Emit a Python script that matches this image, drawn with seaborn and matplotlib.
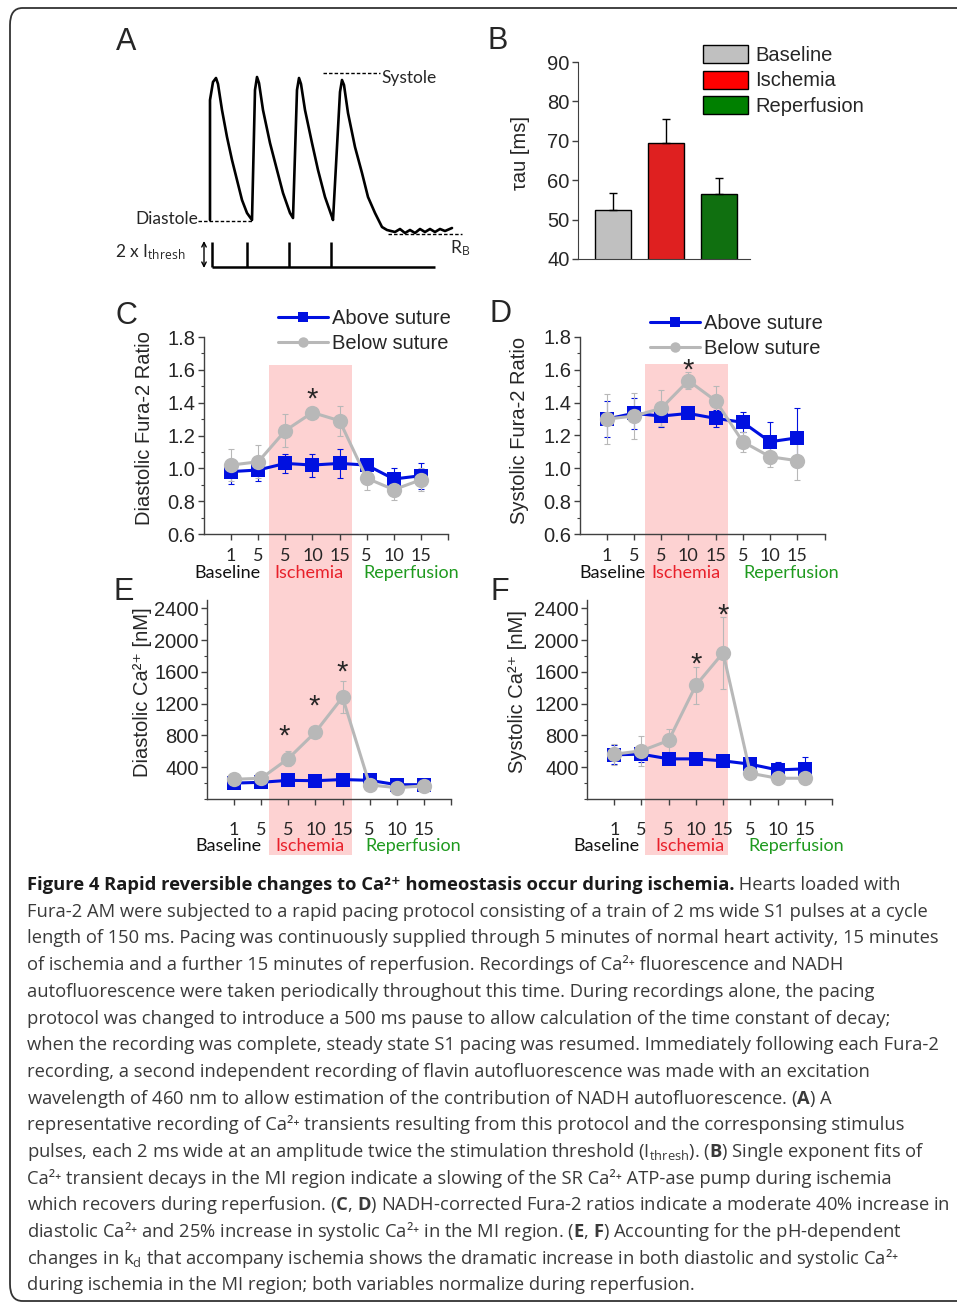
import matplotlib
matplotlib.use("Agg")
import numpy as np
import pandas as pd
import matplotlib.pyplot as plt
import matplotlib.transforms as mtransforms
from matplotlib.patches import Patch, Rectangle, FancyBboxPatch
from matplotlib.lines import Line2D
from matplotlib.ticker import MultipleLocator, FormatStrFormatter
import seaborn as sns

W, H = 957, 1303

# ---------------- data ----------------
# A: representative Ca2+ transient trace (arbitrary units) and stimulus pulses
trace_t = [0, 0, 3, 6, 8, 12, 17, 22, 27, 32, 37, 42,
           45, 47, 49, 53, 60, 67, 73, 80, 83,
           87, 89, 91, 95, 102, 108, 115, 122, 123,
           130, 132, 134, 138, 145, 152, 158, 165, 172,
           177, 185, 190, 195, 200, 205, 210, 215, 220, 225, 230, 235, 242]
trace_f = [10, 130, 148, 152, 146, 120, 93, 70, 50, 30, 17, 10,
           140, 153, 147, 120, 87, 60, 37, 17, 12,
           140, 152, 146, 120, 87, 60, 33, 13, 10,
           138, 150, 145, 117, 83, 57, 33, 17, 3,
           0, -2, 1, -3, 0, -3, 1, -2, 1, -2, 1, -1, 2]
stim_t = [2, 37, 79, 121]

# B: time constant of decay
phases = ["Baseline", "Ischemia", "Reperfusion"]
tau_mean = [52.5, 69.4, 56.6]
tau_err = [4.3, 6.1, 3.9]

# C-F: time points (min) within baseline / ischemia / reperfusion
time_pos = [1, 2, 3, 4, 5, 6, 7, 8]
time_labels = ["1", "5", "5", "10", "15", "5", "10", "15"]
ischemia_window = (2.4, 5.45)

diast_ratio_above = [0.98, 0.99, 1.03, 1.02, 1.03, 1.02, 0.935, 0.955]
diast_ratio_above_err = [0.075, 0.07, 0.06, 0.07, 0.09, 0.03, 0.065, 0.08]
diast_ratio_below = [1.02, 1.04, 1.23, 1.34, 1.29, 0.94, 0.87, 0.93]
diast_ratio_below_err = [0.10, 0.10, 0.10, 0.03, 0.09, 0.07, 0.06, 0.07]

syst_ratio_above = [1.30, 1.335, 1.318, 1.334, 1.304, 1.28, 1.162, 1.186]
syst_ratio_above_err = [0.11, 0.095, 0.065, 0.03, 0.05, 0.06, 0.12, 0.18]
syst_ratio_below = [1.30, 1.318, 1.365, 1.533, 1.411, 1.162, 1.071, 1.047]
syst_ratio_below_err = [0.15, 0.14, 0.11, 0.05, 0.09, 0.06, 0.06, 0.12]

diast_ca_above = [200, 210, 235, 230, 245, 235, 180, 180]
diast_ca_above_err = [30, 30, 25, 25, 25, 30, 25, 30]
diast_ca_below = [248, 261, 509, 842, 1280, 177, 143, 164]
diast_ca_below_err = [30, 30, 90, 40, 200, 40, 30, 30]

syst_ca_above = [556, 564, 505, 505, 480, 438, 366, 379]
syst_ca_above_err = [120, 100, 40, 30, 30, 40, 100, 150]
syst_ca_below = [564, 606, 737, 1431, 1840, 324, 261, 261]
syst_ca_below_err = [130, 190, 140, 230, 450, 30, 20, 20]

# significance markers (x, y)
sig_c = [(4, 1.47)]
sig_d = [(4, 1.65)]
sig_e = [(2.85, 893), (3.95, 1271), (4.97, 1700)]
sig_f = [(4, 1806), (5, 2417)]

caption_title = "Figure 4 Rapid reversible changes to Ca²⁺ homeostasis occur during ischemia."
caption_lines = [
    " Hearts loaded with",
    "Fura-2 AM were subjected to a rapid pacing protocol consisting of a train of 2 ms wide S1 pulses at a cycle",
    "length of 150 ms. Pacing was continuously supplied through 5 minutes of normal heart activity, 15 minutes",
    "of ischemia and a further 15 minutes of reperfusion. Recordings of Ca²⁺ fluorescence and NADH",
    "autofluorescence were taken periodically throughout this time. During recordings alone, the pacing",
    "protocol was changed to introduce a 500 ms pause to allow calculation of the time constant of decay;",
    "when the recording was complete, steady state S1 pacing was resumed. Immediately following each Fura-2",
    "recording, a second independent recording of flavin autofluorescence was made with an excitation",
    "wavelength of 460 nm to allow estimation of the contribution of NADH autofluorescence. ($\\mathbf{A}$) A",
    "representative recording of Ca²⁺ transients resulting from this protocol and the corresponsing stimulus",
    "pulses, each 2 ms wide at an amplitude twice the stimulation threshold (I$_{\\mathrm{thresh}}$). ($\\mathbf{B}$) Single exponent fits of",
    "Ca²⁺ transient decays in the MI region indicate a slowing of the SR Ca²⁺ ATP-ase pump during ischemia",
    "which recovers during reperfusion. ($\\mathbf{C}$, $\\mathbf{D}$) NADH-corrected Fura-2 ratios indicate a moderate 40% increase in",
    "diastolic Ca²⁺ and 25% increase in systolic Ca²⁺ in the MI region. ($\\mathbf{E}$, $\\mathbf{F}$) Accounting for the pH-dependent",
    "changes in k$_{\\mathrm{d}}$ that accompany ischemia shows the dramatic increase in both diastolic and systolic Ca²⁺",
    "during ischemia in the MI region; both variables normalize during reperfusion.",
]

# ---------------- style ----------------
sns.set_style("ticks")
plt.rcParams['font.family'] = ['Liberation Sans', 'DejaVu Sans']
plt.rcParams['mathtext.fontset'] = 'custom'
plt.rcParams['mathtext.rm'] = 'Open Sans'
plt.rcParams['mathtext.it'] = 'Open Sans'
plt.rcParams['mathtext.bf'] = 'Open Sans:bold'

BLUE = "#0010e0"
GRAY = "#b8b8b8"
PINK = "#fdd2d2"
RED = "#e8202a"
GREEN = "#1f9a1f"
AXC = "#404040"
FS = 14.5
CAP_FAMILY = ["Open Sans", "DejaVu Sans"]

fig = plt.figure(figsize=(W / 100, H / 100), dpi=100)


def px_axes(l, t, r, b):
    ax = fig.add_axes([l / W, 1 - b / H, (r - l) / W, (b - t) / H])
    ax.set_facecolor("none")
    return ax


def ftext(x, y, s, **kw):
    return fig.text(x / W, 1 - y / H, s, **kw)


# frame
fig.patches.append(FancyBboxPatch((10 / W, 1 - 1301 / H), 1.2, 1293 / H,
                                  boxstyle="round,pad=0,rounding_size=0.013",
                                  transform=fig.transFigure, fill=False,
                                  ec="#333333", lw=1.3))

# ---------------- A ----------------
axA = px_axes(100, 20, 480, 280)
axA.set_xlim(-110, 270)
axA.set_ylim(-50, 210)
axA.axis("off")
sns.lineplot(x=trace_t, y=trace_f, estimator=None, sort=False, color="black",
             lw=1.9, ax=axA)
base, amp = -37, 25
axA.hlines(base, stim_t[0], 225, color="black", lw=1.8)
axA.vlines(stim_t, base, base + amp, color="black", lw=1.8)
axA.annotate("", xy=(-6, base - 1), xytext=(-6, base + amp + 1),
             arrowprops=dict(arrowstyle="<->", lw=1.0, color="black",
                             shrinkA=0, shrinkB=0, mutation_scale=8))
axA.hlines(157, 113, 170, color="black", lw=1.0, linestyles=(0, (2.5, 1.5)))
axA.hlines(9, -12, 43, color="black", lw=1.0, linestyles=(0, (2.5, 1.5)))
axA.hlines(-4, 178, 252, color="black", lw=1.0, linestyles=(0, (2.5, 1.5)))
axA.text(171, 152, "Systole", family="Lato", fontsize=12.5, va="center", ha="left")
axA.text(-12, 11, "Diastole", family="Lato", fontsize=12.5, va="center", ha="right")
axA.text(-25, -27, "2 x I$_{\\mathrm{thresh}}$", family="Lato", fontsize=12.5,
         va="baseline", ha="right")
axA.text(240, -23, "R$_{\\mathrm{B}}$", family="Lato", fontsize=12.5,
         va="baseline", ha="left")

# ---------------- B ----------------
axB = px_axes(578, 62, 750, 259)
bar_colors = ["#c0c0c0", "#ff0000", "#008000"]
df_b = pd.DataFrame({"phase": phases, "tau": tau_mean})
sns.barplot(data=df_b, x="phase", y="tau", hue="phase", palette=bar_colors,
            legend=False, width=0.68, edgecolor="black", linewidth=1.0,
            errorbar=None, ax=axB)
axB.errorbar(range(len(phases)), tau_mean, yerr=[np.zeros(3), tau_err],
             fmt="none", ecolor="black", elinewidth=1.0, capsize=3, capthick=1.0)
axB.set_xlim(-0.66, 2.58)
axB.set_ylim(40, 90)
axB.set_yticks(range(40, 91, 10))
axB.set_xticks([])
axB.set_xlabel("")
axB.set_ylabel("τau [ms]", fontsize=FS, va="center")
axB.yaxis.set_label_coords(-0.337, 0.54)
axB.tick_params(axis="y", labelsize=FS, length=4, width=1, color=AXC, pad=2)
for sp in ["top", "right"]:
    axB.spines[sp].set_visible(False)
for sp in ["left", "bottom"]:
    axB.spines[sp].set_color(AXC)
handles_b = [Patch(facecolor=c, edgecolor="black", lw=1.0, label=p)
             for c, p in zip(bar_colors, phases)]
axB.legend(handles=handles_b, loc="upper left", bbox_to_anchor=(703 / W, 1 - 45 / H),
           bbox_transform=fig.transFigure, frameon=False, fontsize=FS, borderpad=0,
           borderaxespad=0, handlelength=2.24, handleheight=1.0, handletextpad=0.35,
           labelspacing=0.28)


# ---------------- C-F ----------------
def line_panel(ax, above, above_err, below, below_err, ylim, major, minor, fmt,
               ylabel, label_xy, tick_pad, sig):
    ax.errorbar(time_pos, above, yerr=above_err, fmt="none", ecolor=BLUE,
                elinewidth=0.8, capsize=2.5, capthick=0.8, zorder=2)
    ax.errorbar(time_pos, below, yerr=below_err, fmt="none", ecolor=GRAY,
                elinewidth=0.8, capsize=2.5, capthick=0.8, zorder=2)
    df_a = pd.DataFrame({"t": time_pos, "v": above})
    df_g = pd.DataFrame({"t": time_pos, "v": below})
    sns.lineplot(data=df_a, x="t", y="v", color=BLUE, lw=2.2, marker="s",
                 markersize=9.5, markeredgewidth=0, ax=ax, zorder=3)
    sns.lineplot(data=df_g, x="t", y="v", color=GRAY, lw=2.2, marker="o",
                 markersize=11, markeredgewidth=0, ax=ax, zorder=4)
    for (sx, sy) in sig:
        ax.annotate("*", (sx, sy), xytext=(0, -12), textcoords="offset points",
                    ha="center", va="baseline", fontsize=21)
    ax.set_xlim(0, 9)
    ax.set_xticks(list(time_pos) + [9])
    ax.set_xticklabels(time_labels + [""])
    ax.yaxis.set_major_locator(MultipleLocator(major))
    ax.yaxis.set_minor_locator(MultipleLocator(minor))
    ax.yaxis.set_major_formatter(FormatStrFormatter(fmt))
    ax.set_ylim(*ylim)
    ax.set_xlabel("")
    ax.set_ylabel(ylabel, fontsize=FS, va="center")
    ax.yaxis.set_label_coords(*label_xy)
    ax.tick_params(axis="y", which="major", labelsize=FS, length=4, width=1,
                   color=AXC, pad=2)
    ax.tick_params(axis="y", which="minor", length=2, width=0.8, color=AXC)
    ax.tick_params(axis="x", labelsize=13, length=4, width=1, color=AXC, pad=tick_pad)
    for lbl in ax.get_xticklabels():
        lbl.set_fontfamily("Lato")
    for sp in ["top", "right"]:
        ax.spines[sp].set_visible(False)
    for sp in ["left", "bottom"]:
        ax.spines[sp].set_color(AXC)
        ax.spines[sp].set_linewidth(1.0)


def group_labels(ax, xs, y_px):
    tr = mtransforms.blended_transform_factory(ax.transData, fig.transFigure)
    for x, s, c in zip(xs, phases, ["#111111", RED, GREEN]):
        ax.text(x, 1 - y_px / H, s, transform=tr, family="Lato", fontsize=13,
                color=c, ha="center", va="center", clip_on=False)


def ischemia_band(ax, top, bottom_px):
    # shaded ischemia window: from `top` (data units) down through panel E/F
    tr = mtransforms.blended_transform_factory(ax.transData, fig.transFigure)
    y_top = fig.transFigure.inverted().transform(ax.transData.transform((0, top)))[1]
    y_bot = 1 - bottom_px / H
    ax.add_patch(Rectangle((ischemia_window[0], y_bot),
                           ischemia_window[1] - ischemia_window[0], y_top - y_bot,
                           transform=tr, facecolor=PINK, edgecolor="none",
                           clip_on=False, zorder=0))


axC = px_axes(204, 337, 448, 534)
axD = px_axes(579.5, 336.7, 824.5, 534.3)
axE = px_axes(207, 600.3, 451, 799)
axF = px_axes(587, 600.3, 832, 799)

line_panel(axC, diast_ratio_above, diast_ratio_above_err, diast_ratio_below,
           diast_ratio_below_err, (0.6, 1.8), 0.2, 0.1, "%.1f",
           "Diastolic Fura-2 Ratio", (-0.242, 0.538), 6, sig_c)
line_panel(axD, syst_ratio_above, syst_ratio_above_err, syst_ratio_below,
           syst_ratio_below_err, (0.6, 1.8), 0.2, 0.1, "%.1f",
           "Systolic Fura-2 Ratio", (-0.243, 0.528), 6, sig_d)
line_panel(axE, diast_ca_above, diast_ca_above_err, diast_ca_below,
           diast_ca_below_err, (0, 2500), 400, 200, "%d",
           "Diastolic Ca²⁺ [nM]", (-0.266, 0.54), 12.5, sig_e)
line_panel(axF, syst_ca_above, syst_ca_above_err, syst_ca_below,
           syst_ca_below_err, (0, 2500), 400, 200, "%d",
           "Systolic Ca²⁺ [nM]", (-0.282, 0.54), 12.5, sig_f)
for ax in (axE, axF):
    ax.set_yticks([400, 800, 1200, 1600, 2000, 2400])
    ax.set_ylim(0, 2500)
    ax.yaxis.label.set_family(["Liberation Sans", "DejaVu Sans"])

ischemia_band(axC, 1.63, 855)
ischemia_band(axD, 1.634, 855)

group_labels(axC, [0.88, 3.88, 7.65], 573)
group_labels(axD, [1.2, 3.9, 7.76], 573)
group_labels(axE, [0.78, 3.8, 7.6], 846)
group_labels(axF, [0.73, 3.77, 7.7], 846)

legend_handles = [
    Line2D([], [], color=BLUE, lw=2.2, marker="s", markersize=6.5, markeredgewidth=0,
           label="Above suture"),
    Line2D([], [], color=GRAY, lw=2.2, marker="o", markersize=7.5, markeredgewidth=0,
           label="Below suture"),
]
for ax, (lx, ly) in [(axC, (278, 309)), (axD, (650, 314))]:
    ax.legend(handles=legend_handles, loc="upper left",
              bbox_to_anchor=(lx / W, 1 - ly / H), bbox_transform=fig.transFigure,
              frameon=False, fontsize=FS, borderpad=0, borderaxespad=0,
              handlelength=2.5, handletextpad=0.2, labelspacing=0.3)

# panel letters
for s, x, y in [("A", 126, 42), ("B", 498, 41), ("C", 126, 316), ("D", 501, 314),
                ("E", 124, 592), ("F", 500, 592)]:
    ftext(x, y, s, fontsize=22, ha="center", va="center")

# ---------------- caption ----------------
# size the caption so that its widest line spans the same width as in the figure
renderer = fig.canvas.get_renderer()
widest = 0
for line in caption_lines[1:]:
    probe = ftext(0, 0, line, family=CAP_FAMILY, fontsize=10)
    widest = max(widest, probe.get_window_extent(renderer).width)
    probe.remove()
cap_fs = 10 * 922 / widest

x0, y0, step = 27, 890, 26.7
title = ftext(x0, y0, caption_title, family=CAP_FAMILY, fontsize=cap_fs,
              fontweight="bold", color="#1a1a1a", va="baseline")
tw = title.get_window_extent(renderer).width
ftext(x0 + tw, y0, caption_lines[0], family=CAP_FAMILY, fontsize=cap_fs,
      color="#3a3a3a", va="baseline")
for i, line in enumerate(caption_lines[1:], start=1):
    ftext(x0, y0 + i * step, line, family=CAP_FAMILY, fontsize=cap_fs,
          color="#3a3a3a", va="baseline")

fig.savefig("out.png", dpi=100)
